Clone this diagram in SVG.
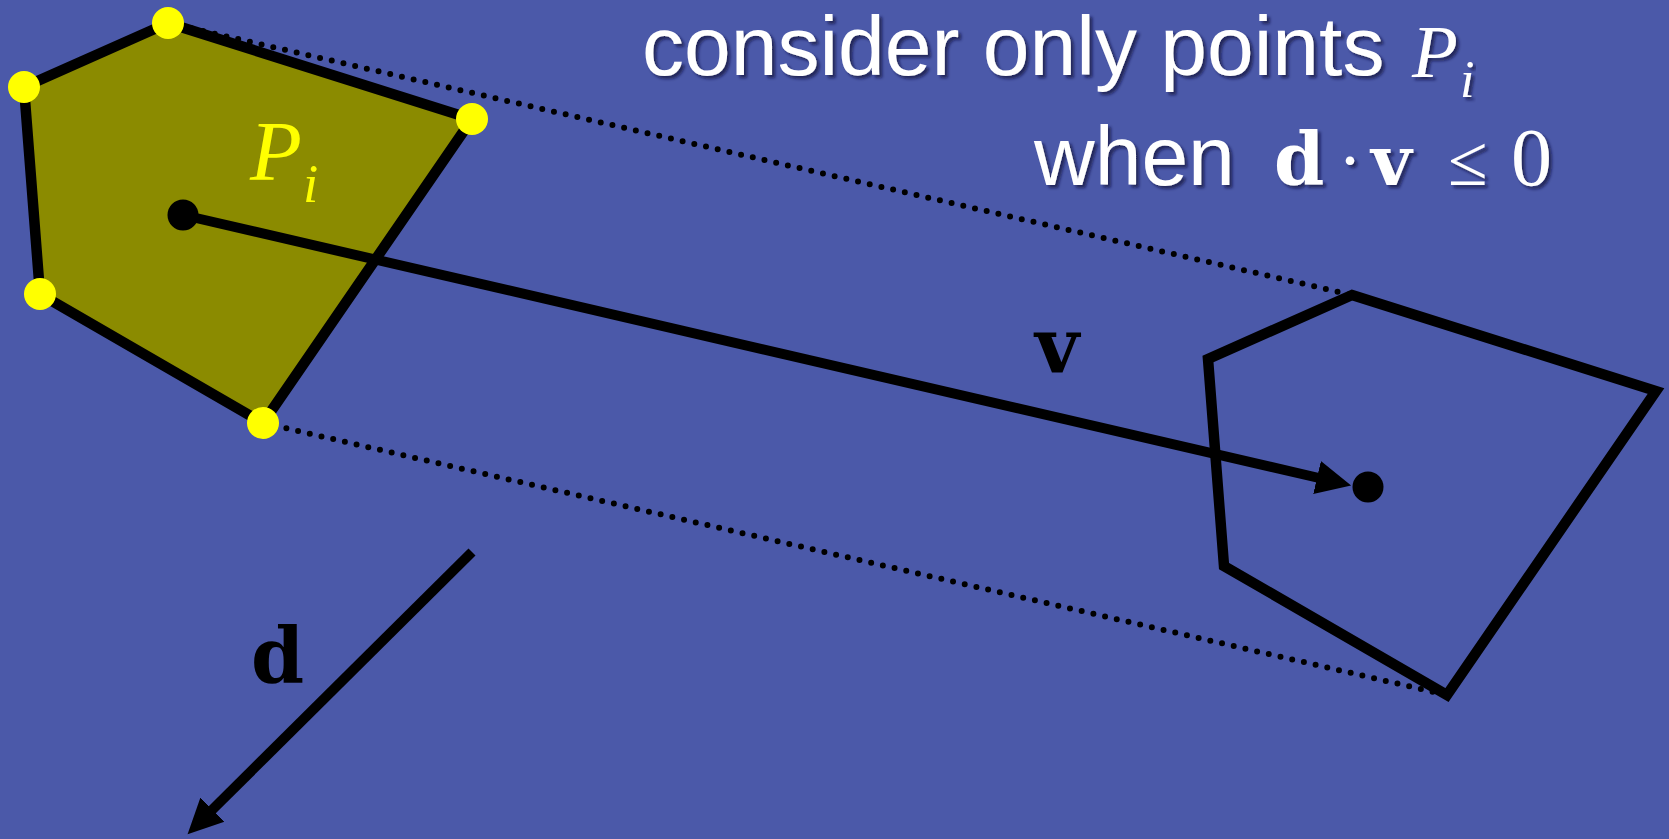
<svg xmlns="http://www.w3.org/2000/svg" width="1669" height="839" viewBox="0 0 1669 839">
<defs>
<style>
.edge{stroke:#000;stroke-width:10.5;stroke-linejoin:miter;stroke-miterlimit:10}
.hollow{fill:none}
.olive{fill:#8B8B00}
.dots{fill:none;stroke:#000;stroke-width:6;stroke-linecap:round;stroke-dasharray:0 12}
.shaft{fill:none;stroke:#000;stroke-width:10}
.vtx{fill:#FFFF00}
.ctr{fill:#000}
.title{font-family:"Liberation Sans",Arial,sans-serif;font-size:84px;fill:#fff;filter:url(#shadow)}
.math{font-family:"Liberation Serif","Times New Roman",serif;font-style:italic}
.bold{font-family:"DejaVu Serif",serif;font-weight:bold}
.wsh{fill:#fff;filter:url(#shadow)}
</style>
<filter id="shadow" x="-10%" y="-20%" width="120%" height="150%">
<feDropShadow dx="3" dy="3" stdDeviation="1.5" flood-color="#14183a" flood-opacity="0.7"/>
</filter>
<marker id="arrow" markerUnits="userSpaceOnUse" markerWidth="40" markerHeight="40" viewBox="0 -20 40 40" refX="2" refY="0" orient="auto">
<path d="M0,-17 L35,0 L0,17 z" fill="#000"/>
</marker>
</defs>
<rect x="0" y="0" width="1669" height="839" fill="#4B59A9"/>
<g id="connectors">
<line class="dots" x1="168" y1="23" x2="1352" y2="295"/>
<line class="dots" x1="263" y1="423" x2="1447" y2="695"/>
</g>
<g id="source-polygon">
<polygon points="168,23 472,119 263,423 40,294 24,87" class="edge olive"/>
</g>
<g id="target-polygon">
<polygon points="1352,295 1656,391 1447,695 1224,566 1208,359" class="edge hollow"/>
</g>
<g id="arrows">
<line class="shaft" x1="183" y1="215" x2="1319" y2="478" marker-end="url(#arrow)"/>
<line class="shaft" x1="472" y1="552" x2="211" y2="811" marker-end="url(#arrow)"/>
</g>
<g id="vertices">
<circle class="vtx" cx="168" cy="23" r="16"/>
<circle class="vtx" cx="472" cy="119" r="16"/>
<circle class="vtx" cx="263" cy="423" r="16"/>
<circle class="vtx" cx="40" cy="294" r="16"/>
<circle class="vtx" cx="24" cy="87" r="16"/>
<circle class="ctr" cx="183" cy="215" r="15.5"/>
<circle class="ctr" cx="1368" cy="487" r="15.5"/>
</g>
<g id="labels">
<text class="math" x="250" y="180" font-size="85" fill="#FFFF00">P</text>
<text class="math" x="303" y="202" font-size="55" fill="#FFFF00">i</text>
<text class="bold" x="251" y="682" font-size="76" fill="#000">d</text>
<text class="bold" x="1035" y="372" font-size="76" fill="#000">v</text>
</g>
<g id="title">
<text class="title" x="642" y="75">consider only points</text>
<text class="math wsh" x="1412" y="77" font-size="75">P</text>
<text class="math wsh" x="1460" y="97" font-size="52">i</text>
<text class="title" x="1034" y="185">when</text>
<text class="bold wsh" x="1274" y="185" font-size="72">d</text>
<text class="wsh" x="1338" y="185" font-family="Liberation Serif,serif" font-size="72">·</text>
<text class="bold wsh" x="1371" y="185" font-size="70">v</text>
<text class="wsh" x="1448" y="185" font-family="Liberation Serif,serif" font-size="72">≤</text>
<text class="wsh" x="1511" y="185" font-family="Liberation Serif,serif" font-size="82">0</text>
</g>
</svg>
